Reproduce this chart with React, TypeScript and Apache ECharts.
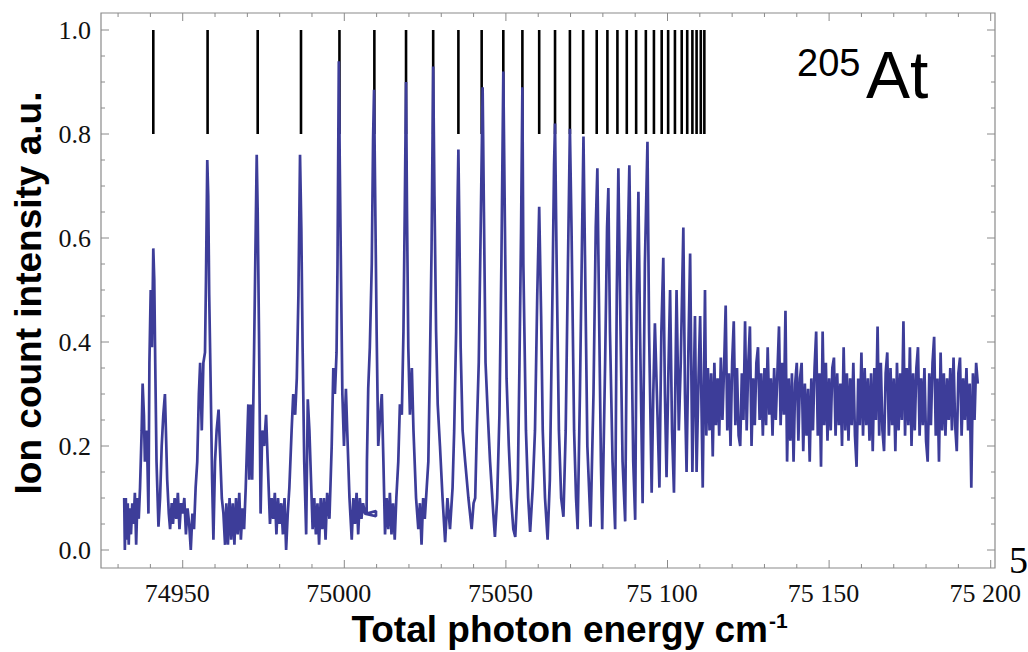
import React, { useEffect, useRef } from "react";
import * as echarts from "echarts";

// Rydberg-series marker positions (cm^-1), drawn from 0.8 to 1.0
const markerEnergies = [
  74940.9, 74957.7, 74973.2, 74986.6, 74998.5, 75009.3, 75019.1, 75027.5,
  75035.3, 75042.5, 75049.2, 75055.1, 75060.3, 75065.2, 75069.8, 75073.9,
  75078.1, 75081.4, 75084.5, 75087.4, 75090.3, 75093.3, 75095.8, 75098.2,
  75100.2, 75102.3, 75104.4, 75106.1, 75107.7, 75109.0, 75110.3, 75111.4,
];
const markerLow = 0.8;
const markerHigh = 1.0;

// Resolved-peak part of the spectrum [energy cm^-1, intensity]
const peakRegion: [number, number][] = [
  [74931.9, 0.10], [74932.1, 0.00], [74932.4, 0.10], [74932.7, 0.02], [74933.0, 0.09],
  [74933.3, 0.01], [74933.6, 0.08], [74934.0, 0.03], [74934.4, 0.09], [74934.8, 0.05],
  [74935.2, 0.11], [74935.6, 0.01], [74936.0, 0.10], [74936.4, 0.06], [74936.8, 0.12],
  [74937.3, 0.23], [74937.6, 0.32], [74938.0, 0.26], [74938.3, 0.17], [74938.9, 0.23],
  [74939.4, 0.07], [74939.7, 0.36], [74940.1, 0.50], [74940.5, 0.39], [74940.9, 0.58],
  [74941.2, 0.52], [74941.5, 0.36], [74941.9, 0.17], [74942.5, 0.045], [74943.0, 0.10],
  [74943.5, 0.20], [74944.0, 0.26], [74944.5, 0.30], [74944.8, 0.23], [74945.2, 0.135],
  [74945.7, 0.07], [74946.1, 0.04],
  [74946.6, 0.09], [74947.0, 0.05], [74947.5, 0.10], [74948.0, 0.06], [74948.5, 0.11],
  [74949.0, 0.04], [74949.5, 0.09], [74950.0, 0.07], [74950.5, 0.10], [74951.0, 0.03],
  [74951.5, 0.08], [74952.0, 0.05], [74952.5, 0.0], [74953.0, 0.07], [74953.5, 0.04],
  [74954.0, 0.12],
  [74954.5, 0.17], [74955.0, 0.30], [74955.4, 0.36], [74955.9, 0.23], [74956.4, 0.36],
  [74956.9, 0.38], [74957.2, 0.52], [74957.6, 0.75], [74957.9, 0.68], [74958.2, 0.49],
  [74958.7, 0.30], [74959.1, 0.135], [74959.5, 0.02], [74960.0, 0.17], [74960.5, 0.23],
  [74961.1, 0.27], [74961.5, 0.20], [74962.1, 0.10], [74962.6, 0.07], [74963.1, 0.01],
  [74963.5, 0.09], [74964.0, 0.01], [74964.5, 0.10], [74965.0, 0.02], [74965.5, 0.09],
  [74966.0, 0.01], [74966.5, 0.10], [74967.0, 0.03], [74967.5, 0.11], [74968.0, 0.02],
  [74968.5, 0.08], [74969.0, 0.04], [74969.5, 0.12],
  [74970.3, 0.28], [74970.6, 0.135], [74971.0, 0.28], [74971.5, 0.135], [74972.1, 0.39],
  [74972.6, 0.62], [74972.9, 0.76], [74973.2, 0.65], [74973.6, 0.42], [74974.1, 0.07],
  [74974.6, 0.23], [74975.2, 0.20], [74975.8, 0.26], [74976.3, 0.17], [74977.0, 0.05],
  [74977.5, 0.10], [74978.0, 0.06], [74978.5, 0.11], [74979.0, 0.03], [74979.5, 0.10],
  [74980.0, 0.05], [74980.5, 0.09], [74981.0, 0.03], [74981.5, 0.10], [74982.0, 0.00],
  [74982.5, 0.07], [74983.0, 0.12],
  [74983.7, 0.23], [74984.2, 0.30], [74984.8, 0.26], [74985.3, 0.33], [74985.8, 0.49],
  [74986.3, 0.76], [74986.7, 0.62], [74987.1, 0.39], [74987.6, 0.17], [74988.2, 0.03],
  [74988.7, 0.29], [74989.2, 0.23], [74989.7, 0.135], [74990.2, 0.04],
  [74990.7, 0.10], [74991.2, 0.03], [74991.7, 0.09], [74992.2, 0.01], [74992.7, 0.10],
  [74993.2, 0.04], [74993.7, 0.10], [74994.2, 0.02], [74994.7, 0.11], [74995.4, 0.06],
  [74996.1, 0.20], [74996.6, 0.35], [74997.1, 0.30], [74997.6, 0.38], [74997.9, 0.55],
  [74998.3, 0.94], [74998.6, 0.74], [74999.0, 0.52], [74999.4, 0.30], [74999.9, 0.20],
  [75000.5, 0.31], [75000.9, 0.23], [75001.6, 0.10], [75002.3, 0.02],
  [75002.8, 0.10], [75003.3, 0.05], [75003.8, 0.11], [75004.3, 0.03], [75004.8, 0.10],
  [75005.3, 0.06], [75005.8, 0.09], [75006.4, 0.07], [75009.8, 0.065], [75009.8, 0.075],
  [75006.9, 0.07],
  [75007.0, 0.17], [75007.4, 0.31], [75007.9, 0.39], [75008.5, 0.55], [75008.9, 0.79],
  [75009.2, 0.885], [75009.5, 0.71], [75010.0, 0.42], [75010.5, 0.20], [75011.1, 0.26],
  [75011.6, 0.30], [75012.1, 0.17], [75012.6, 0.03], [75013.1, 0.10],
  [75013.6, 0.04], [75014.1, 0.11], [75014.6, 0.03], [75015.1, 0.09], [75015.6, 0.02],
  [75016.1, 0.10],
  [75016.7, 0.17], [75017.2, 0.28], [75017.8, 0.26], [75018.3, 0.42], [75018.7, 0.65],
  [75019.1, 0.90], [75019.4, 0.65], [75019.8, 0.39], [75020.3, 0.26], [75020.9, 0.35],
  [75021.4, 0.23], [75022.2, 0.10], [75022.9, 0.04], [75023.4, 0.09], [75023.9, 0.01],
  [75024.4, 0.10], [75024.9, 0.06],
  [75025.5, 0.12], [75026.0, 0.17], [75026.5, 0.36], [75027.0, 0.58], [75027.5, 0.93],
  [75027.9, 0.68], [75028.4, 0.42], [75028.9, 0.28], [75029.6, 0.20], [75030.4, 0.10],
  [75031.2, 0.015], [75031.9, 0.10], [75032.7, 0.04], [75033.5, 0.12],
  [75034.0, 0.23], [75034.6, 0.42], [75035.0, 0.65], [75035.3, 0.77], [75035.6, 0.62],
  [75036.0, 0.39], [75036.6, 0.23], [75037.4, 0.17], [75038.4, 0.10], [75039.4, 0.04],
  [75040.0, 0.09], [75040.5, 0.10],
  [75041.0, 0.23], [75041.6, 0.36], [75042.2, 0.62], [75042.8, 0.89], [75043.2, 0.65],
  [75043.7, 0.36], [75044.4, 0.26], [75045.1, 0.17], [75046.1, 0.07], [75046.6, 0.025],
  [75047.3, 0.10],
  [75048.0, 0.26], [75048.6, 0.55], [75049.2, 0.92], [75049.7, 0.62], [75050.2, 0.33],
  [75050.9, 0.20], [75051.6, 0.10], [75052.3, 0.04], [75052.9, 0.025], [75053.7, 0.135],
  [75054.2, 0.36], [75054.7, 0.62], [75055.1, 0.89], [75055.4, 0.55], [75056.2, 0.23],
  [75056.9, 0.10], [75057.5, 0.035], [75058.3, 0.12],
  [75059.0, 0.23], [75059.7, 0.49], [75060.3, 0.66], [75060.9, 0.45], [75061.4, 0.23],
  [75062.1, 0.10], [75062.9, 0.02], [75063.6, 0.135],
  [75064.4, 0.49], [75064.9, 0.74], [75065.2, 0.82], [75065.7, 0.55], [75066.4, 0.23],
  [75067.1, 0.10], [75067.8, 0.064],
  [75068.5, 0.23], [75069.2, 0.55], [75069.8, 0.81], [75070.3, 0.62], [75071.1, 0.23],
  [75071.7, 0.10], [75072.2, 0.04],
  [75072.9, 0.30], [75073.6, 0.62], [75074.0, 0.795], [75074.5, 0.55], [75075.2, 0.20],
  [75076.2, 0.045],
  [75077.1, 0.30], [75077.8, 0.62], [75078.3, 0.734], [75078.9, 0.42], [75079.4, 0.17],
  [75079.8, 0.04],
  [75080.7, 0.36], [75081.3, 0.62], [75081.7, 0.696], [75082.2, 0.42], [75083.0, 0.17],
  [75083.8, 0.04],
  [75084.3, 0.49], [75084.8, 0.734], [75085.3, 0.49], [75086.1, 0.17], [75086.9, 0.055],
  [75087.6, 0.55], [75088.2, 0.74], [75088.7, 0.49], [75089.4, 0.17], [75090.0, 0.058],
  [75090.5, 0.49], [75091.0, 0.689], [75091.5, 0.42], [75092.3, 0.09],
  [75093.0, 0.55], [75093.8, 0.785], [75094.3, 0.42], [75095.1, 0.11],
  [75095.6, 0.30], [75096.1, 0.436], [75096.9, 0.26], [75097.5, 0.12],
  [75098.1, 0.42], [75098.7, 0.562], [75099.2, 0.30], [75099.7, 0.14],
  [75100.3, 0.35], [75100.8, 0.50], [75101.4, 0.23], [75102.0, 0.11],
  [75102.8, 0.50], [75103.5, 0.23], [75104.1, 0.36], [75104.9, 0.62], [75105.4, 0.30],
  [75105.9, 0.15], [75106.5, 0.40], [75107.0, 0.57], [75107.7, 0.15], [75108.5, 0.45],
  [75109.0, 0.15], [75109.6, 0.33], [75110.1, 0.45], [75110.9, 0.12], [75111.6, 0.50],
  [75112.0, 0.22],
];

// Unresolved continuum above the series limit [energy cm^-1, intensity]
const continuum: [number, number][] = [
  [75112.5, 0.35], [75113.0, 0.23], [75113.5, 0.34], [75114.0, 0.18], [75114.5, 0.36],
  [75115.0, 0.24], [75115.5, 0.33], [75116.0, 0.22], [75116.5, 0.37], [75117.0, 0.25],
  [75117.5, 0.35], [75118.0, 0.47], [75118.5, 0.23], [75119.0, 0.34], [75119.5, 0.20],
  [75120.0, 0.36], [75120.5, 0.44], [75121.0, 0.24], [75121.5, 0.35], [75122.0, 0.22],
  [75122.5, 0.20], [75123.0, 0.34], [75123.5, 0.25], [75124.0, 0.44], [75124.5, 0.23],
  [75125.0, 0.36], [75125.5, 0.43], [75126.0, 0.20], [75126.5, 0.33], [75127.0, 0.24],
  [75127.5, 0.36], [75128.0, 0.39], [75128.5, 0.25], [75129.0, 0.34], [75129.5, 0.22],
  [75130.0, 0.35], [75130.5, 0.24], [75131.0, 0.39], [75131.5, 0.26], [75132.0, 0.33],
  [75132.5, 0.22], [75133.0, 0.35], [75133.5, 0.25], [75134.0, 0.34], [75134.5, 0.43],
  [75135.0, 0.24], [75135.5, 0.36], [75136.0, 0.26], [75136.5, 0.46], [75137.0, 0.17],
  [75137.5, 0.33], [75138.0, 0.21], [75138.5, 0.34], [75139.0, 0.17], [75139.5, 0.32],
  [75140.0, 0.36], [75140.5, 0.21], [75141.0, 0.33], [75141.5, 0.36], [75142.0, 0.19],
  [75142.5, 0.32], [75143.0, 0.22], [75143.5, 0.31], [75144.0, 0.17], [75144.5, 0.33],
  [75145.0, 0.23], [75145.5, 0.35], [75146.0, 0.42], [75146.5, 0.22], [75147.0, 0.34],
  [75147.5, 0.16], [75148.0, 0.42], [75148.5, 0.24], [75149.0, 0.36], [75149.5, 0.21],
  [75150.0, 0.33], [75150.5, 0.23], [75151.0, 0.35], [75151.5, 0.37], [75152.0, 0.22],
  [75152.5, 0.34], [75153.0, 0.24], [75153.5, 0.32], [75154.0, 0.20], [75154.5, 0.39],
  [75155.0, 0.23], [75155.5, 0.34], [75156.0, 0.21], [75156.5, 0.33], [75157.0, 0.24],
  [75157.5, 0.36], [75158.0, 0.22], [75158.5, 0.16], [75159.0, 0.33], [75159.5, 0.24],
  [75160.0, 0.38], [75160.5, 0.22], [75161.0, 0.35], [75161.5, 0.24], [75162.0, 0.33],
  [75162.5, 0.21], [75163.0, 0.34], [75163.5, 0.19], [75164.0, 0.35], [75164.5, 0.25],
  [75165.0, 0.43], [75165.5, 0.22], [75166.0, 0.36], [75166.5, 0.23], [75167.0, 0.19],
  [75167.5, 0.34], [75168.0, 0.38], [75168.5, 0.22], [75169.0, 0.35], [75169.5, 0.24],
  [75170.0, 0.33], [75170.5, 0.19], [75171.0, 0.36], [75171.5, 0.23], [75172.0, 0.34],
  [75172.5, 0.25], [75173.0, 0.44], [75173.5, 0.22], [75174.0, 0.35], [75174.5, 0.24],
  [75175.0, 0.39], [75175.5, 0.20], [75176.0, 0.34], [75176.5, 0.23], [75177.0, 0.35],
  [75177.5, 0.39], [75178.0, 0.22], [75178.5, 0.33], [75179.0, 0.24], [75179.5, 0.35],
  [75180.0, 0.21], [75180.5, 0.17], [75181.0, 0.34], [75181.5, 0.24], [75182.0, 0.36],
  [75182.5, 0.41], [75183.0, 0.22], [75183.5, 0.33], [75184.0, 0.17], [75184.5, 0.38],
  [75185.0, 0.23], [75185.5, 0.34], [75186.0, 0.22], [75186.5, 0.33], [75187.0, 0.25],
  [75187.5, 0.35], [75188.0, 0.23], [75188.5, 0.37], [75189.0, 0.24], [75189.5, 0.19],
  [75190.0, 0.34], [75190.5, 0.37], [75191.0, 0.22], [75191.5, 0.33], [75192.0, 0.25],
  [75192.5, 0.35], [75193.0, 0.23], [75193.5, 0.32], [75194.0, 0.12], [75194.5, 0.34],
  [75195.0, 0.25], [75195.5, 0.36], [75196.0, 0.32],
];

const xMin = 74924.72;
const xMax = 75201.33;
const yMin = -0.0346;
const yMax = 1.0327;
const xLabelValues = [74950, 75000, 75050, 75100, 75150, 75200];
const xLabelTexts = ["74950", "75000", "75050", "75 100", "75 150", "75 200"];
const xMinorTicks = [
  74930, 74940, 74950, 74960, 74970, 74980, 74990, 75000, 75010, 75020, 75030,
  75040, 75050, 75060, 75070, 75080, 75090, 75100, 75110, 75120, 75130, 75140,
  75150, 75160, 75170, 75180, 75190, 75200,
];
const yLabelValues = [0, 0.2, 0.4, 0.6, 0.8, 1.0];
const yLabelTexts = ["0.0", "0.2", "0.4", "0.6", "0.8", "1.0"];
const yMinorTicks = [
  0, 0.05, 0.1, 0.15, 0.2, 0.25, 0.3, 0.35, 0.4, 0.45, 0.5, 0.55, 0.6, 0.65,
  0.7, 0.75, 0.8, 0.85, 0.9, 0.95, 1.0,
];

const FRAME = "#8a8a8a";
const SERIF = "Liberation Serif";
const SANS = "Liberation Sans";

const isIn = (arr: number[], v: number) => arr.some((a) => Math.abs(a - v) < 1e-6);

export default function App() {
  const ref = useRef<HTMLDivElement>(null);
  useEffect(() => {
    if (!ref.current) return;
    const chart = echarts.init(ref.current, undefined, { renderer: "svg" });

    const tickStyle = { stroke: FRAME, lineWidth: 1 };
    const txt = (text: string, family: string, size: number, weight: string, align: string) => ({
      text,
      fontFamily: family,
      fontSize: size,
      fontWeight: weight,
      fill: "#000",
      align,
      verticalAlign: "middle",
    });

    chart.setOption({
      animation: false,
      backgroundColor: "#ffffff",
      grid: {
        left: 101,
        top: 13,
        width: 894,
        height: 555,
        containLabel: false,
        show: true,
        borderColor: FRAME,
        borderWidth: 1.2,
        backgroundColor: "transparent",
      },
      xAxis: {
        type: "value",
        min: xMin,
        max: xMax,
        splitLine: { show: false },
        axisLine: { show: false },
        axisTick: { show: false },
        axisLabel: {
          show: true,
          customValues: xLabelValues,
          formatter: (v: number) => {
            const i = xLabelValues.findIndex((x) => Math.abs(x - v) < 1e-6);
            return i >= 0 ? xLabelTexts[i] : "";
          },
          fontFamily: SERIF,
          fontSize: 26,
          color: "#111",
          margin: 12,
          padding: [0, 11, 0, 0],
        },
      },
      yAxis: {
        type: "value",
        min: yMin,
        max: yMax,
        splitLine: { show: false },
        axisLine: { show: false },
        axisTick: { show: false },
        axisLabel: {
          show: true,
          customValues: yLabelValues,
          formatter: (v: number) => {
            const i = yLabelValues.findIndex((y) => Math.abs(y - v) < 1e-6);
            return i >= 0 ? yLabelTexts[i] : "";
          },
          fontFamily: SERIF,
          fontSize: 26,
          color: "#111",
          margin: 10,
        },
      },
      series: [
        {
          type: "custom",
          name: "xTicks",
          silent: true,
          z: 1,
          data: xMinorTicks.map((v) => [v, isIn(xLabelValues, v) ? 1 : 0]),
          renderItem: (_p: any, api: any) => {
            const v = api.value(0);
            const len = api.value(1) ? 8 : 4;
            const b = api.coord([v, yMin]);
            const t = api.coord([v, yMax]);
            return {
              type: "group",
              children: [
                { type: "line", shape: { x1: b[0], y1: b[1], x2: b[0], y2: b[1] - len }, style: tickStyle },
                { type: "line", shape: { x1: t[0], y1: t[1], x2: t[0], y2: t[1] + len }, style: tickStyle },
              ],
            };
          },
        },
        {
          type: "custom",
          name: "yTicks",
          silent: true,
          z: 1,
          data: yMinorTicks.map((v) => [v, isIn(yLabelValues, v) ? 1 : 0]),
          renderItem: (_p: any, api: any) => {
            const v = api.value(0);
            const len = api.value(1) ? 8 : 4;
            const l = api.coord([xMin, v]);
            const r = api.coord([xMax, v]);
            return {
              type: "group",
              children: [
                { type: "line", shape: { x1: l[0], y1: l[1], x2: l[0] + len, y2: l[1] }, style: tickStyle },
                { type: "line", shape: { x1: r[0], y1: r[1], x2: r[0] - len, y2: r[1] }, style: tickStyle },
              ],
            };
          },
        },
        {
          type: "custom",
          name: "markers",
          silent: true,
          z: 2,
          data: markerEnergies.map((e) => [e, markerLow, markerHigh]),
          renderItem: (_params: any, api: any) => {
            const p1 = api.coord([api.value(0), api.value(2)]);
            const p2 = api.coord([api.value(0), api.value(1)]);
            return {
              type: "line",
              shape: { x1: p1[0], y1: p1[1], x2: p2[0], y2: p2[1] },
              style: { stroke: "#000000", lineWidth: 2.6 },
            };
          },
        },
        {
          type: "line",
          name: "spectrum",
          z: 3,
          showSymbol: false,
          symbol: "none",
          silent: true,
          data: [...peakRegion, ...continuum],
          lineStyle: { color: "#3d3d99", width: 2.7 },
        },
      ],
      graphic: [
        {
          type: "text",
          x: 28,
          y: 293,
          rotation: Math.PI / 2,
          style: txt("Ion count intensity a.u.", SANS, 37, "bold", "center"),
        },
        {
          type: "text",
          x: 768,
          y: 629,
          style: txt("Total photon energy cm", SANS, 37, "bold", "right"),
        },
        {
          type: "text",
          x: 769,
          y: 620,
          style: txt("-1", SANS, 21, "bold", "left"),
        },
        {
          type: "text",
          x: 797,
          y: 63,
          style: txt("205", SANS, 38, "normal", "left"),
        },
        {
          type: "text",
          x: 866,
          y: 75,
          style: txt("At", SANS, 66, "normal", "left"),
        },
        {
          type: "text",
          x: 1009,
          y: 560,
          style: txt("5", SERIF, 38, "normal", "left"),
        },
      ],
    });
    return () => chart.dispose();
  }, []);

  return (
    <div
      ref={ref}
      style={{ position: "absolute", left: 0, top: 0, width: 1028, height: 652 }}
    />
  );
}
